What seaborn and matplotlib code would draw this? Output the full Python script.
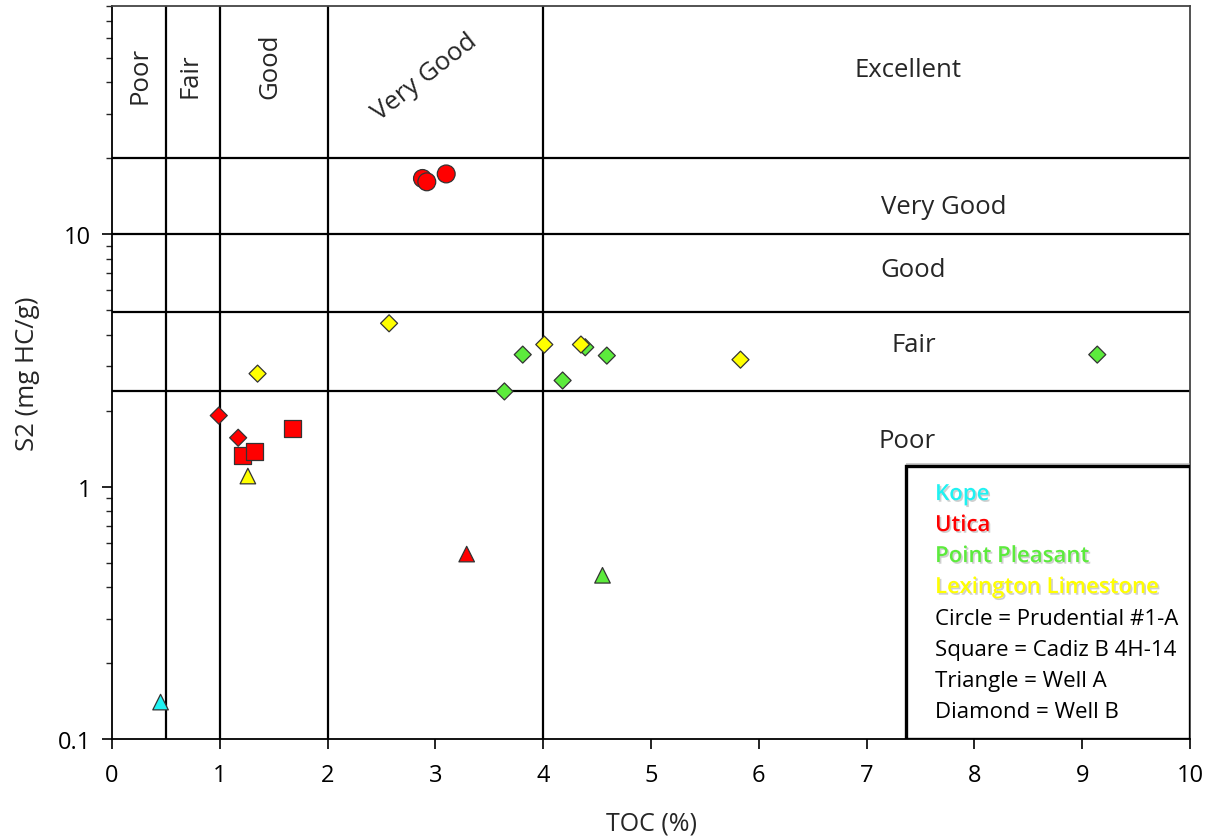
import matplotlib
matplotlib.use("Agg")
import matplotlib.pyplot as plt
import matplotlib.patheffects as pe
from matplotlib.patches import Rectangle
from matplotlib.ticker import FixedLocator, LogLocator, NullFormatter
import seaborn as sns
import pandas as pd

sns.set_style("white")
plt.rcParams["font.family"] = ["Open Sans", "DejaVu Sans"]

# Sample data: TOC (wt %), S2 (mg HC/g), formation and well
toc = [0.45,
       2.88, 2.92, 3.10, 0.99, 1.17, 1.21, 1.32, 1.67, 3.29,
       4.55, 3.81, 3.64, 4.18, 4.39, 4.59, 9.14,
       1.26, 1.35, 2.57, 4.01, 4.35, 5.83]
s2 = [0.14,
      16.6, 16.1, 17.3, 1.91, 1.56, 1.33, 1.38, 1.69, 0.54,
      0.445, 3.33, 2.38, 2.63, 3.56, 3.30, 3.33,
      1.10, 2.80, 4.43, 3.65, 3.65, 3.18]
formation = ["Kope",
             "Utica", "Utica", "Utica", "Utica", "Utica", "Utica", "Utica", "Utica", "Utica",
             "Point Pleasant", "Point Pleasant", "Point Pleasant", "Point Pleasant",
             "Point Pleasant", "Point Pleasant", "Point Pleasant",
             "Lexington Limestone", "Lexington Limestone", "Lexington Limestone",
             "Lexington Limestone", "Lexington Limestone", "Lexington Limestone"]
well = ["Well A",
        "Prudential #1-A", "Prudential #1-A", "Prudential #1-A", "Well B", "Well B",
        "Cadiz B 4H-14", "Cadiz B 4H-14", "Cadiz B 4H-14", "Well A",
        "Well A", "Well B", "Well B", "Well B", "Well B", "Well B", "Well B",
        "Well A", "Well B", "Well B", "Well B", "Well B", "Well B"]

formations = ["Kope", "Utica", "Point Pleasant", "Lexington Limestone"]
formation_colors = ["#1FF2F2", "#FF0000", "#5CEB3C", "#FFFF00"]
wells = ["Prudential #1-A", "Cadiz B 4H-14", "Well A", "Well B"]
well_markers = ["o", "s", "^", "D"]
well_sizes = [165, 150, 125, 75]

# Source-rock quality class boundaries
toc_bounds = [0.5, 1, 2, 4]
s2_bounds = [20, 10, 4.9, 2.4]
toc_classes = ["Poor", "Fair", "Good", "Very Good"]
s2_classes = ["Excellent", "Very Good", "Good", "Fair", "Poor"]

df = pd.DataFrame({"TOC": toc, "S2": s2, "Formation": formation, "Well": well})
palette = dict(zip(formations, formation_colors))

fig = plt.figure(figsize=(12.14, 8.37), dpi=100)
ax = fig.add_axes([0.0923, 0.1159, 0.8879, 0.8757])

for xb in toc_bounds:
    ax.axvline(xb, color="black", lw=1.6, zorder=1)
for yb in s2_bounds:
    ax.axhline(yb, color="black", lw=1.6, zorder=1)

for w, m, sz in zip(wells, well_markers, well_sizes):
    sub = df[df["Well"] == w]
    sns.scatterplot(data=sub, x="TOC", y="S2", hue="Formation", palette=palette,
                    marker=m, s=sz, edgecolor="#333333", linewidth=0.9,
                    legend=False, ax=ax, zorder=3)

ax.set_yscale("log")
ax.set_xlim(0, 10)
ax.set_ylim(0.1, 80)
ax.set_xticks(range(0, 11))
ax.yaxis.set_major_locator(FixedLocator([0.1, 1, 10]))
ax.set_yticklabels(["0.1", "1", "10"])
ax.yaxis.set_minor_locator(LogLocator(base=10, subs=range(2, 10)))
ax.yaxis.set_minor_formatter(NullFormatter())
ax.tick_params(axis="both", which="major", direction="out", length=7, width=1.2,
               labelsize=17, colors="black", bottom=True, left=True)
ax.tick_params(axis="y", which="minor", direction="out", length=4, width=1.0,
               left=True)
ax.tick_params(axis="x", pad=10)
ax.tick_params(axis="y", pad=8)

for side in ["left", "bottom"]:
    ax.spines[side].set_color("black")
    ax.spines[side].set_linewidth(1.3)
for side in ["top", "right"]:
    ax.spines[side].set_color("#444444")
    ax.spines[side].set_linewidth(1.3)

ax.set_xlabel("TOC (%)", fontsize=18, labelpad=17)
ax.set_ylabel("S2 (mg HC/g)", fontsize=18.5, labelpad=13)

# TOC class labels
ax.text(0.26, 42.8, toc_classes[0], rotation=90, ha="center", va="center", fontsize=18.5)
ax.text(0.72, 42.8, toc_classes[1], rotation=90, ha="center", va="center", fontsize=18.5)
ax.text(1.46, 46.8, toc_classes[2], rotation=90, ha="center", va="center", fontsize=18.5)
ax.text(2.90, 42.0, toc_classes[3], rotation=38, ha="center", va="center", fontsize=18.5)

# S2 class labels
s2_label_pos = [(7.38, 44.7), (7.72, 12.8), (7.43, 7.22), (7.44, 3.65), (7.38, 1.52)]
for (lx, ly), lab in zip(s2_label_pos, s2_classes):
    ax.text(lx, ly, lab, ha="center", va="center", fontsize=18.5)

# Key box
ax.add_patch(Rectangle((0.7367, 0.0), 0.2633, 0.3726, transform=ax.transAxes,
                       facecolor="white", edgecolor="black", lw=2.4, zorder=5,
                       path_effects=[pe.withSimplePatchShadow(offset=(0, 2),
                                                              shadow_rgbFace="#999999",
                                                              alpha=0.5)]))
key_lines = [(f, c, True) for f, c in zip(formations, formation_colors)] + [
    ("Circle = Prudential #1-A", "black", False),
    ("Square = Cadiz B 4H-14", "black", False),
    ("Triangle = Well A", "black", False),
    ("Diamond = Well B", "black", False),
]
ky = 0.3335
for txt, col, colored in key_lines:
    kw = {}
    if colored:
        kw["fontweight"] = "semibold"
        kw["path_effects"] = [pe.withSimplePatchShadow(offset=(1.2, -1.2),
                                                       shadow_rgbFace="#888888",
                                                       alpha=0.4)]
    ax.text(0.7635, ky, txt, transform=ax.transAxes, color=col, fontsize=16,
            ha="left", va="center", zorder=6, **kw)
    ky -= 0.0423

fig.savefig("out.png", dpi=100)
